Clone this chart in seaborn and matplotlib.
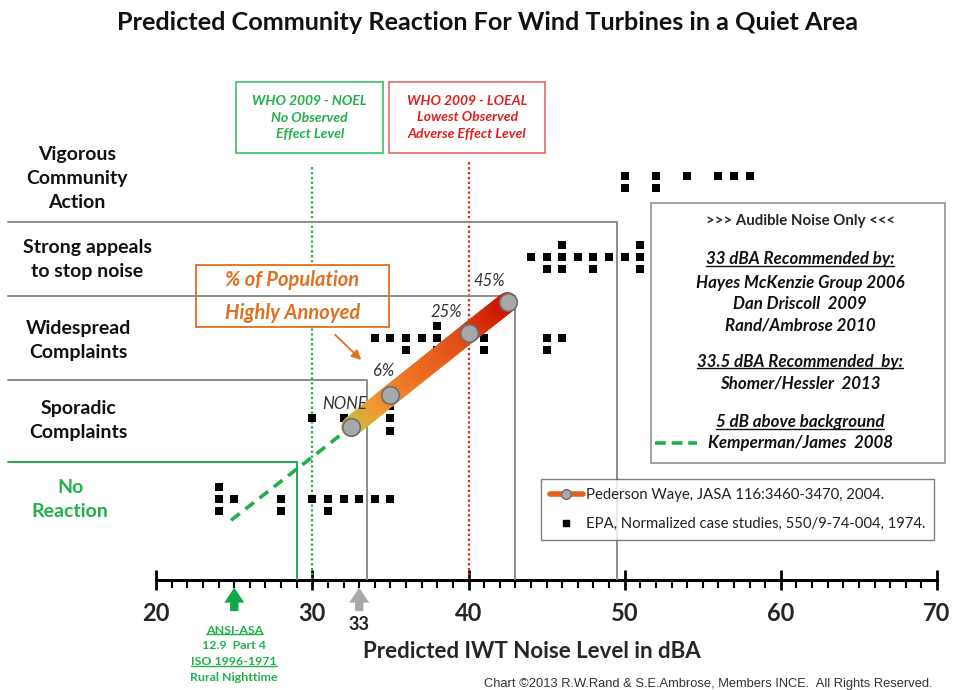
import numpy as np
import matplotlib
matplotlib.use('Agg')
import matplotlib.pyplot as plt
import seaborn as sns
from matplotlib.collections import LineCollection
from matplotlib.colors import LinearSegmentedColormap
from matplotlib.lines import Line2D
from matplotlib.patches import Rectangle

# --- DATA ---
# EPA normalized case studies: noise level (dBA) vs community reaction level
epa_x = [24, 24, 24, 25, 28, 28, 30, 31, 31, 32, 33, 34, 35,
         30, 32, 33, 35, 35, 35,
         34, 35, 36, 36, 37, 38, 38, 38, 40, 41, 41, 45, 45, 46,
         44, 45, 45, 46, 46, 46, 47, 48, 48, 49, 50, 51, 51, 51,
         50, 50, 52, 52, 54, 56, 57, 58]
epa_y = [1.15, 1.0, 0.85, 1.0, 1.0, 0.85, 1.0, 1.0, 0.85, 1.0, 1.0, 1.0, 1.0,
         2.0, 2.0, 2.0, 2.15, 2.0, 1.85,
         3.0, 3.0, 3.0, 2.85, 3.0, 3.15, 3.0, 2.85, 3.0, 3.0, 2.85, 3.0, 2.85, 3.0,
         4.0, 4.0, 3.85, 4.15, 4.0, 3.85, 4.0, 4.0, 3.85, 4.0, 4.0, 4.15, 4.0, 3.85,
         5.0, 4.85, 5.0, 4.85, 5.0, 5.0, 5.0, 5.0]

# Pederson Waye (% highly annoyed)
pw_x = [32.5, 35, 40, 42.5]
pw_y = [1.90, 2.29, 3.06, 3.44]
pw_labels = ['NONE', '6%', '25%', '45%']

# Kemperman/James: 5 dB above background
km_x = [24.8, 32.5]
km_y = [0.74, 1.90]

# reaction band limits: (top of band, dBA where the band ends)
band_top = [1.46, 2.47, 3.51, 4.43]
band_end = [29, 33.5, 43, 49.5]

categories = ['No\nReaction', 'Sporadic\nComplaints', 'Widespread\nComplaints',
              'Strong appeals\nto stop noise', 'Vigorous\nCommunity\nAction']
category_levels = [1, 2, 3, 4, 5]

who_noel = 30
who_loael = 40
ansi_level = 25
rec_level = 33

FONT = 'Lato'
GREEN = '#1fb04a'
RED = '#e0201c'
ORANGE = '#e07020'

sns.set_theme(style='white')
plt.rcParams['font.family'] = [FONT, 'DejaVu Sans']

fig = plt.figure(figsize=(9.55, 6.9), dpi=100)
ax = fig.add_axes([0, 110 / 690, 1, 580 / 690])
ax.set_xlim(10.0, 71.15)
ax.set_ylim(0, 7.18)

# axis styling
for s in ['left', 'top', 'right']:
    ax.spines[s].set_visible(False)
ax.spines['bottom'].set_bounds(20, 70)
ax.spines['bottom'].set_linewidth(2.2)
ax.spines['bottom'].set_color('black')
ax.set_xticks(range(20, 71, 10))
ax.set_xticks(range(20, 71), minor=True)
ax.tick_params(axis='x', which='major', direction='inout', length=14, width=2,
               color='black', labelsize=17, pad=9, bottom=True)
ax.tick_params(axis='x', which='minor', direction='out', length=5.5, width=1.5,
               color='black', bottom=True)
for lbl in ax.get_xticklabels():
    lbl.set_fontweight('bold')
ax.set_yticks([])
ax.set_xlabel('Predicted IWT Noise Level in dBA', fontsize=16, fontweight='bold')
ax.xaxis.set_label_coords(0.557, -0.106)

# band step lines
for i, (top, end) in enumerate(zip(band_top, band_end)):
    col = GREEN if i == 0 else '#8c8c8c'
    ax.plot([10.5, end, end], [top, top, 0], color=col, lw=1.4, zorder=3)

# WHO guideline lines
ax.plot([who_noel, who_noel], [0, 5.14], color=GREEN, lw=1.6, ls=(0, (1, 1.2)), zorder=1)
ax.plot([who_loael, who_loael], [0, 5.17], color=RED, lw=1.6, ls=(0, (1, 1.2)), zorder=1)

# category labels
cat_x = [14.49, 15.0, 15.0, 15.58, 14.94]
for lab, lev, cx in zip(categories, category_levels, cat_x):
    ax.text(cx, lev - 0.03 if lev > 1 else lev, lab, ha='center', va='center',
            fontsize=14, fontweight='bold', linespacing=1.5,
            color=GREEN if lev == 1 else '#111111')

# EPA case studies
sns.scatterplot(x=epa_x, y=epa_y, marker='s', color='black', s=36, linewidth=0,
                ax=ax, zorder=5, legend=False)

# Kemperman/James dashed line
sns.lineplot(x=km_x, y=km_y, color=GREEN, lw=2.6, ax=ax, zorder=4, legend=False)
ax.lines[-1].set_linestyle((0, (3, 2)))

# Pederson Waye gradient band
pts = np.column_stack([pw_x, pw_y])
segs = []
for a, b in zip(pts[:-1], pts[1:]):
    t = np.linspace(0, 1, 30)
    p = a + (b - a) * t[:, None]
    segs += [[p[j], p[j + 1]] for j in range(len(p) - 1)]
cmap = LinearSegmentedColormap.from_list('pw', ['#c2c23a', '#f29a35', '#ea6a22',
                                                '#dc3a10', '#cc1800'])
lc = LineCollection(segs, cmap=cmap, linewidths=14.5, capstyle='round', zorder=6)
lc.set_array(np.linspace(0, 1, len(segs)))
ax.add_collection(lc)
sns.scatterplot(x=pw_x, y=pw_y, s=160, color='#a8a8a8', edgecolor='#6e6e6e',
                linewidth=1.2, ax=ax, zorder=7, legend=False)
label_off = [(-5, 16), (-5, 17), (-16, 15), (-13, 15)]
for x, y, t, off in zip(pw_x, pw_y, pw_labels, label_off):
    ax.annotate(t, (x, y), xytext=off, textcoords='offset points', ha='center',
                va='center', fontsize=12, fontstyle='italic', color='#333333', zorder=8)

# WHO boxes
ax.add_patch(Rectangle((25.12, 5.28), 9.41, 0.88, fill=False, ec='#3cc06a', lw=1.2))
ax.add_patch(Rectangle((34.92, 5.29), 9.98, 0.87, fill=False, ec='#e86a6a', lw=1.2))
ax.text(29.83, 5.72, 'WHO 2009 - NOEL\nNo Observed\nEffect Level', ha='center', va='center',
        fontsize=10, fontweight='bold', fontstyle='italic', color=GREEN, linespacing=1.45)
ax.text(39.91, 5.73, 'WHO 2009 - LOEAL\nLowest Observed\nAdverse Effect Level', ha='center',
        va='center', fontsize=10, fontweight='bold', fontstyle='italic', color=RED,
        linespacing=1.45)

# % of population box
ax.add_patch(Rectangle((22.56, 3.13), 12.36, 0.77, fc='white', ec=ORANGE, lw=1.3, zorder=2))
ax.text(28.71, 3.71, '% of Population', ha='center', va='center', fontsize=14.5,
        fontweight='bold', fontstyle='italic', color=ORANGE, zorder=4)
ax.text(28.71, 3.30, 'Highly Annoyed', ha='center', va='center', fontsize=14.5,
        fontweight='bold', fontstyle='italic', color=ORANGE, zorder=4)
ax.annotate('', xy=(33.26, 2.70), xytext=(31.33, 3.06),
            arrowprops=dict(arrowstyle='-|>', color=ORANGE, lw=1.3, mutation_scale=14))

# audible noise box
ax.add_patch(Rectangle((51.69, 1.45), 18.82, 3.22, fill=False, ec='#9a9a9a', lw=1.3))
box_x = 61.23
ax.text(box_x, 4.44, '>>> Audible Noise Only <<<', ha='center', va='center',
        fontsize=10.8, fontweight='bold')
box_lines = [(3.97, '33 dBA Recommended by:', True),
             (3.68, 'Hayes McKenzie Group 2006', False),
             (3.42, 'Dan Driscoll  2009', False),
             (3.15, 'Rand/Ambrose 2010', False),
             (2.70, '33.5 dBA Recommended  by:', True),
             (2.43, 'Shomer/Hessler  2013', False),
             (1.95, '5 dB above background', True),
             (1.69, 'Kemperman/James  2008', False)]
underlined = []
for y, t, u in box_lines:
    txt = ax.text(box_x, y, t, ha='center', va='center', fontsize=12.2,
                  fontweight='bold', fontstyle='italic', color='#111111')
    if u:
        underlined.append((txt, '#111111'))
ax.plot([51.95, 54.64], [1.69, 1.69], color=GREEN, lw=2.6, ls=(0, (3, 1.6)))

# legend
handles = [Line2D([], [], color='#e8601e', lw=4, marker='o', markersize=7,
                  markerfacecolor='#a8a8a8', markeredgecolor='#6e6e6e'),
           Line2D([], [], ls='none', marker='s', color='black', markersize=5)]
leg = ax.legend(handles, ['Pederson Waye, JASA 116:3460-3470, 2004.',
                          'EPA, Normalized case studies, 550/9-74-004, 1974.'],
                loc='upper left', bbox_to_anchor=(541 / 955, (580 - 479) / 580),
                frameon=True, fancybox=False, edgecolor='#606060', fontsize=10.7,
                handlelength=2.2, handletextpad=0.2, borderpad=0.6, labelspacing=1.0,
                borderaxespad=0)
leg.get_frame().set_linewidth(1.0)
for t in leg.get_texts():
    t.set_color('#222222')

# arrows below axis
ax.annotate('', xy=(ansi_level, -0.06), xytext=(ansi_level, -0.42), annotation_clip=False,
            arrowprops=dict(arrowstyle='simple,head_width=1.2,head_length=0.9,tail_width=0.5',
                            color='#10a848', lw=0))
ax.annotate('', xy=(rec_level, -0.06), xytext=(rec_level, -0.42), annotation_clip=False,
            arrowprops=dict(arrowstyle='simple,head_width=1.2,head_length=0.9,tail_width=0.5',
                            color='#a8a8a8', lw=0))
ax.text(rec_level, -0.55, str(rec_level), ha='center', va='center', fontsize=13,
        fontweight='bold', color='#222222', clip_on=False)
ansi_lines = [(-0.62, 'ANSI-ASA', True), (-0.81, '12.9  Part 4', False),
              (-1.01, 'ISO 1996-1971', True), (-1.21, 'Rural Nighttime', False)]
for y, t, u in ansi_lines:
    txt = ax.text(ansi_level, y, t, ha='center', va='center', fontsize=8.9,
                  fontweight='bold', color='#22b14c', clip_on=False)
    if u:
        underlined.append((txt, '#22b14c'))

# title and credit
fig.text(0.51, 1 - 23 / 690, 'Predicted Community Reaction For Wind Turbines in a Quiet Area',
         ha='center', va='center', fontsize=18.2, fontweight='bold', color='#111111')
fig.text(932 / 955, 1 - 684 / 690,
         'Chart \u00a92013 R.W.Rand & S.E.Ambrose, Members INCE.  All Rights Reserved.',
         ha='right', va='center', fontsize=9.3, family='Liberation Sans', color='#333333')

# underline the marked texts
fig.canvas.draw()
r = fig.canvas.get_renderer()
W, H = fig.bbox.width, fig.bbox.height
for txt, col in underlined:
    bb = txt.get_window_extent(r)
    yy = (bb.y0 + 1.5) / H
    fig.add_artist(Line2D([bb.x0 / W, bb.x1 / W], [yy, yy], color=col, lw=1.0))

fig.savefig('out.png', dpi=100)
